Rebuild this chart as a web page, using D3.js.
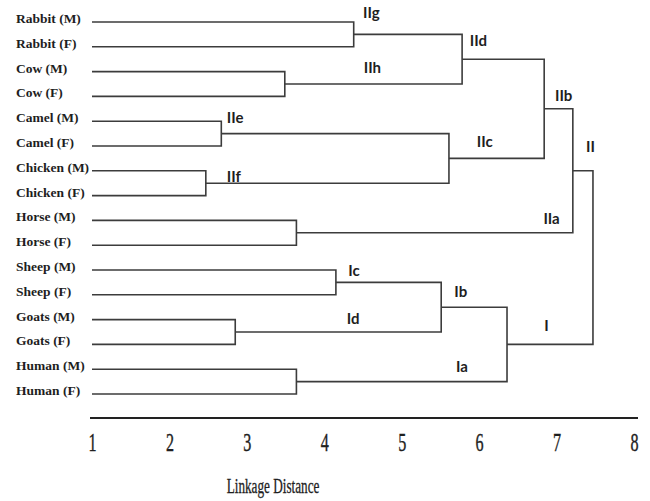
<!DOCTYPE html>
<html>
<head>
<meta charset="utf-8">
<script src="https://cdn.jsdelivr.net/npm/d3@7"></script>
<style>
  body { margin: 0; background: #fff; }
  .leaf { font: bold 13.5px "Liberation Serif", serif; fill: #1e1e1e; }
  .node-label { font: bold 15px Lato, sans-serif; fill: #1e1e1e; }
  .link { fill: none; stroke: #3c3c3c; stroke-width: 1.6px; }
</style>
</head>
<body>
<svg width="650" height="501"></svg>
<script>
// leaves of the dendrogram, top to bottom
var leaves = ["Rabbit (M)", "Rabbit (F)", "Cow (M)", "Cow (F)", "Camel (M)", "Camel (F)",
              "Chicken (M)", "Chicken (F)", "Horse (M)", "Horse (F)", "Sheep (M)", "Sheep (F)",
              "Goats (M)", "Goats (F)", "Human (M)", "Human (F)"];

// merges: [left id, right id, linkage distance]; ids >= 16 refer to earlier merges
var merges = [
  [0, 1, 4.38],    // 16 Rabbit
  [2, 3, 3.49],    // 17 Cow
  [4, 5, 2.67],    // 18 Camel
  [6, 7, 2.47],    // 19 Chicken
  [8, 9, 3.64],    // 20 Horse
  [10, 11, 4.15],  // 21 Sheep
  [12, 13, 2.85],  // 22 Goats
  [14, 15, 3.64],  // 23 Human
  [16, 17, 5.78],  // 24
  [18, 19, 5.61],  // 25
  [24, 25, 6.84],  // 26
  [26, 20, 7.21],  // 27
  [21, 22, 5.51],  // 28
  [28, 23, 6.36],  // 29
  [27, 29, 7.47]   // 30
];

// cluster names, with distance and row where each name sits
var clusterNames = ["IIg", "IId", "IIh", "IIb", "IIc", "II", "IIe", "IIf", "IIa", "Ic", "Ib", "Id", "I", "Ia"];
var nameDist = [4.50, 5.88, 4.51, 6.98, 5.97, 7.38, 2.74, 2.74, 6.83, 4.31, 5.68, 4.29, 6.84, 5.70];
var nameRow = [-0.36, 0.77, 1.85, 2.98, 4.84, 5.04, 3.87, 6.25, 7.94, 10.04, 10.89, 11.98, 12.26, 13.91];

var xTicks = [1, 2, 3, 4, 5, 6, 7, 8];

var svg = d3.select("svg");

var x = d3.scaleLinear().domain([1, 8]).range([92, 634]);
var row = d3.scaleLinear().domain([0, leaves.length - 1]).range([22, 394]);

// positions of every node: leaves first, then merges
var nodes = leaves.map(function(name, i) { return {h: 1, r: i}; });
merges.forEach(function(m) {
  nodes.push({h: m[2], r: (nodes[m[0]].r + nodes[m[1]].r) / 2, a: m[0], b: m[1]});
});

var g = svg.append("g");

// leaf labels
g.selectAll(".leaf")
  .data(leaves)
  .enter().append("text")
  .attr("class", "leaf")
  .attr("x", 16)
  .attr("y", function(d, i) { return row(i) + 1; })
  .text(function(d) { return d; });

// elbow connectors for each merge
g.selectAll(".link")
  .data(nodes.slice(leaves.length))
  .enter().append("path")
  .attr("class", "link")
  .attr("d", function(d) {
    var a = nodes[d.a], b = nodes[d.b];
    return "M" + x(a.h) + "," + row(a.r) +
           "H" + x(d.h) +
           "V" + row(b.r) +
           "H" + x(b.h);
  });

// cluster names
g.selectAll(".node-label")
  .data(clusterNames)
  .enter().append("text")
  .attr("class", "node-label")
  .attr("x", function(d, i) { return x(nameDist[i]); })
  .attr("y", function(d, i) { return row(nameRow[i]); })
  .attr("dy", "0.35em")
  .text(function(d) { return d; });

// axis
var axis = svg.append("g")
  .attr("transform", "translate(0,418)")
  .call(d3.axisBottom(x).tickValues(xTicks).tickSize(0).tickSizeOuter(0).tickFormat(d3.format("d")));

axis.select(".domain")
  .attr("stroke", "#222")
  .attr("stroke-width", 2)
  .attr("d", "M" + (x(1) - 2) + ",0H" + (x(8) + 4));

axis.selectAll("text")
  .attr("y", 33)
  .attr("dy", 0)
  .attr("fill", "#1e1e1e")
  .attr("stroke", "#1e1e1e")
  .attr("stroke-width", 0.4)
  .attr("transform", "scale(0.62,1)")
  .style("font", "26px 'Liberation Serif', serif");

svg.append("text")
  .attr("transform", "translate(273,493) scale(0.66,1)")
  .attr("text-anchor", "middle")
  .attr("fill", "#1e1e1e")
  .attr("stroke", "#1e1e1e")
  .attr("stroke-width", 0.3)
  .style("font", "20px 'Liberation Serif', serif")
  .text("Linkage Distance");
</script>
</body>
</html>
